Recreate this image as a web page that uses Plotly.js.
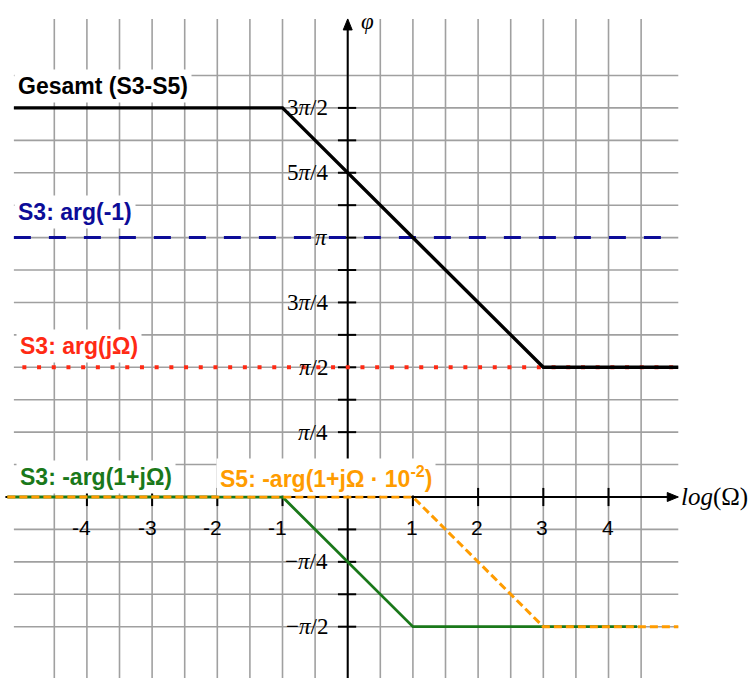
<!DOCTYPE html>
<html><head><meta charset="utf-8">
<script src="https://cdn.plot.ly/plotly-3.0.1.min.js"></script>
<style>html,body{margin:0;padding:0;background:#fff}#chart{width:753px;height:678px}</style>
</head><body><div id="chart"></div>
<script>
// x: log(Ω) in decades; y: phase in multiples of π
const gesamtX = [-5.12, -1, 3, 5.07];
const gesamtY = [1.5, 1.5, 0.5, 0.5];
const argMinus1X = [-5.12, 5.07];
const argMinus1Y = [1, 1];
const argJOmegaX = [-4.99, 5.0];
const argJOmegaY = [0.5, 0.5];
const s3PoleX = [-5.22, -1, 1, 4.44];
const s3PoleY = [0, 0, -0.5, -0.5];
const s5PoleX = [-5.22, 1, 3, 5.07];
const s5PoleY = [0, 0, -0.5, -0.5];

const xTickVals = [-4, -3, -2, -1, 1, 2, 3, 4];
const xTickText = ['-4', '-3', '-2', '-1', '1', '2', '3', '4'];
const yTickVals = [1.5, 1.25, 1, 0.75, 0.5, 0.25, -0.25, -0.5];
const yTickText = ['3<i>π</i>/2', '5<i>π</i>/4', '<i>π</i>', '3<i>π</i>/4', '<i>π</i>/2', '<i>π</i>/4', '−<i>π</i>/4', '−<i>π</i>/2'];
const seriesNames = ['Gesamt (S3-S5)', 'S3: arg(-1)', 'S3: arg(jΩ)', 'S3: -arg(1+jΩ)', 'S5: -arg(1+jΩ · 10<sup>-2</sup>)'];

const cBlack = '#000000', cBlue = '#0c0c98', cRed = '#ff2a14', cGreen = '#1a781a', cOrange = '#ff9c00';
const sans = 'Liberation Sans, Arial, Helvetica, sans-serif';
const serif = 'Liberation Serif, Times New Roman, serif';

const X0 = -5.333, X1 = 6.216, Y0 = -0.6978, Y1 = 1.916;
const pxX = 65.2, pxY = 259.4; // pixels per data unit
const gridLeft = -5.12, gridRight = 5.07, gridTop = 1.843;

const shapes = [];
const gridStyle = {color: '#a0a0a0', width: 1.6};
for (let k = -4; k <= 13; k++) {
  const y = k / 8;
  shapes.push({type: 'line', layer: 'below', xref: 'x', yref: 'y', x0: gridLeft, x1: gridRight, y0: y, y1: y, line: gridStyle});
}
for (let k = -9; k <= 9; k++) {
  const x = k / 2;
  shapes.push({type: 'line', layer: 'below', xref: 'x', yref: 'y', x0: x, x1: x, y0: Y0 - 0.05, y1: gridTop, line: gridStyle});
}
// axes
shapes.push({type: 'line', layer: 'below', xref: 'x', yref: 'y', x0: -5.25, x1: 4.95, y0: 0, y1: 0, line: {color: '#000', width: 2}});
shapes.push({type: 'line', layer: 'below', xref: 'x', yref: 'y', x0: 0, x1: 0, y0: Y0 - 0.05, y1: 1.80, line: {color: '#000', width: 2}});
// arrowheads (tip, 11px long, 4.5px half width)
const xTip = 5.07, yTip = gridTop, aL = 11, aW = 4.5;
shapes.push({type: 'path', layer: 'above', xref: 'x', yref: 'y',
  path: `M${xTip},0 L${xTip - aL / pxX},${aW / pxY} L${xTip - aL / pxX},${-aW / pxY} Z`,
  fillcolor: '#000', line: {color: '#000', width: 1}});
shapes.push({type: 'path', layer: 'above', xref: 'x', yref: 'y',
  path: `M0,${yTip} L${aW / pxX},${yTip - aL / pxY} L${-aW / pxX},${yTip - aL / pxY} Z`,
  fillcolor: '#000', line: {color: '#000', width: 1}});
// x ticks
xTickVals.forEach(v => shapes.push({type: 'line', layer: 'below', xref: 'x', yref: 'y', x0: v, x1: v, y0: -0.035, y1: 0.035, line: {color: '#000', width: 2}}));
// y ticks
for (let k = -4; k <= 12; k++) {
  if (k === 0) continue;
  const y = k / 8;
  shapes.push({type: 'line', layer: 'below', xref: 'x', yref: 'y', x0: -0.15, x1: 0.13, y0: y, y1: y, line: {color: '#000', width: 2}});
}

const annotations = [];
// axis titles
annotations.push({xref: 'x', yref: 'y', x: (679 - 347.7) / pxX, y: 0, xanchor: 'left', yanchor: 'middle', showarrow: false, text: '<i>log</i>(Ω)', font: {family: serif, size: 25, color: '#000'}});
annotations.push({xref: 'x', yref: 'y', x: 0.17, y: (497 - 21) / pxY, xanchor: 'left', yanchor: 'middle', showarrow: false, text: '<i>φ</i>', font: {family: serif, size: 23, color: '#000'}});
// tick labels
xTickVals.forEach((v, i) => annotations.push({xref: 'x', yref: 'y', x: v, y: -0.1195, xanchor: 'center', yanchor: 'middle', xshift: v < 0 ? -5 : -1, showarrow: false, text: xTickText[i], font: {family: sans, size: 21, color: '#000'}}));
yTickVals.forEach((v, i) => annotations.push({xref: 'x', yref: 'y', x: 0, y: v, xanchor: 'right', yanchor: 'middle', xshift: -18, showarrow: false, text: yTickText[i], font: {family: serif, size: 23, color: '#000'}}));
// series labels
const labelPos = [
  {x: -5.12, y: (497 - 86) / pxY, c: cBlack},
  {x: -5.12, y: (497 - 212) / pxY, c: cBlue},
  {x: -5.09, y: (497 - 346) / pxY, c: cRed},
  {x: -5.09, y: (497 - 477) / pxY, c: cGreen},
  {x: (216 - 347.7) / pxX, y: (497 - 477) / pxY, c: cOrange}
];
seriesNames.forEach((t, i) => annotations.push({xref: 'x', yref: 'y', x: labelPos[i].x, y: labelPos[i].y, xanchor: 'left', yanchor: 'middle', showarrow: false, text: '<b>' + t + '</b>', bgcolor: '#ffffff', borderpad: 3, font: {family: sans, size: 23, color: labelPos[i].c}}));

const traces = [
  {x: s3PoleX, y: s3PoleY, mode: 'lines', line: {color: cGreen, width: 2.8}},
  {x: s5PoleX, y: s5PoleY, mode: 'lines', line: {color: cOrange, width: 3, dash: '8px,4px'}},
  {x: argMinus1X, y: argMinus1Y, mode: 'lines', line: {color: cBlue, width: 3, dash: '17px,18px'}},
  {x: argJOmegaX, y: argJOmegaY, mode: 'lines', line: {color: cRed, width: 4, dash: '4px,10.7px'}},
  {x: gesamtX, y: gesamtY, mode: 'lines', line: {color: cBlack, width: 3.4}}
];

const layout = {
  width: 753, height: 678,
  margin: {l: 0, r: 0, t: 0, b: 0, pad: 0},
  paper_bgcolor: '#fff', plot_bgcolor: '#fff',
  showlegend: false,
  xaxis: {range: [X0, X1], showgrid: false, zeroline: false, showticklabels: false, ticks: '', showline: false, fixedrange: true},
  yaxis: {range: [Y0, Y1], showgrid: false, zeroline: false, showticklabels: false, ticks: '', showline: false, fixedrange: true},
  shapes: shapes,
  annotations: annotations
};
Plotly.newPlot('chart', traces, layout, {displayModeBar: false, staticPlot: true});
</script>
</body></html>
